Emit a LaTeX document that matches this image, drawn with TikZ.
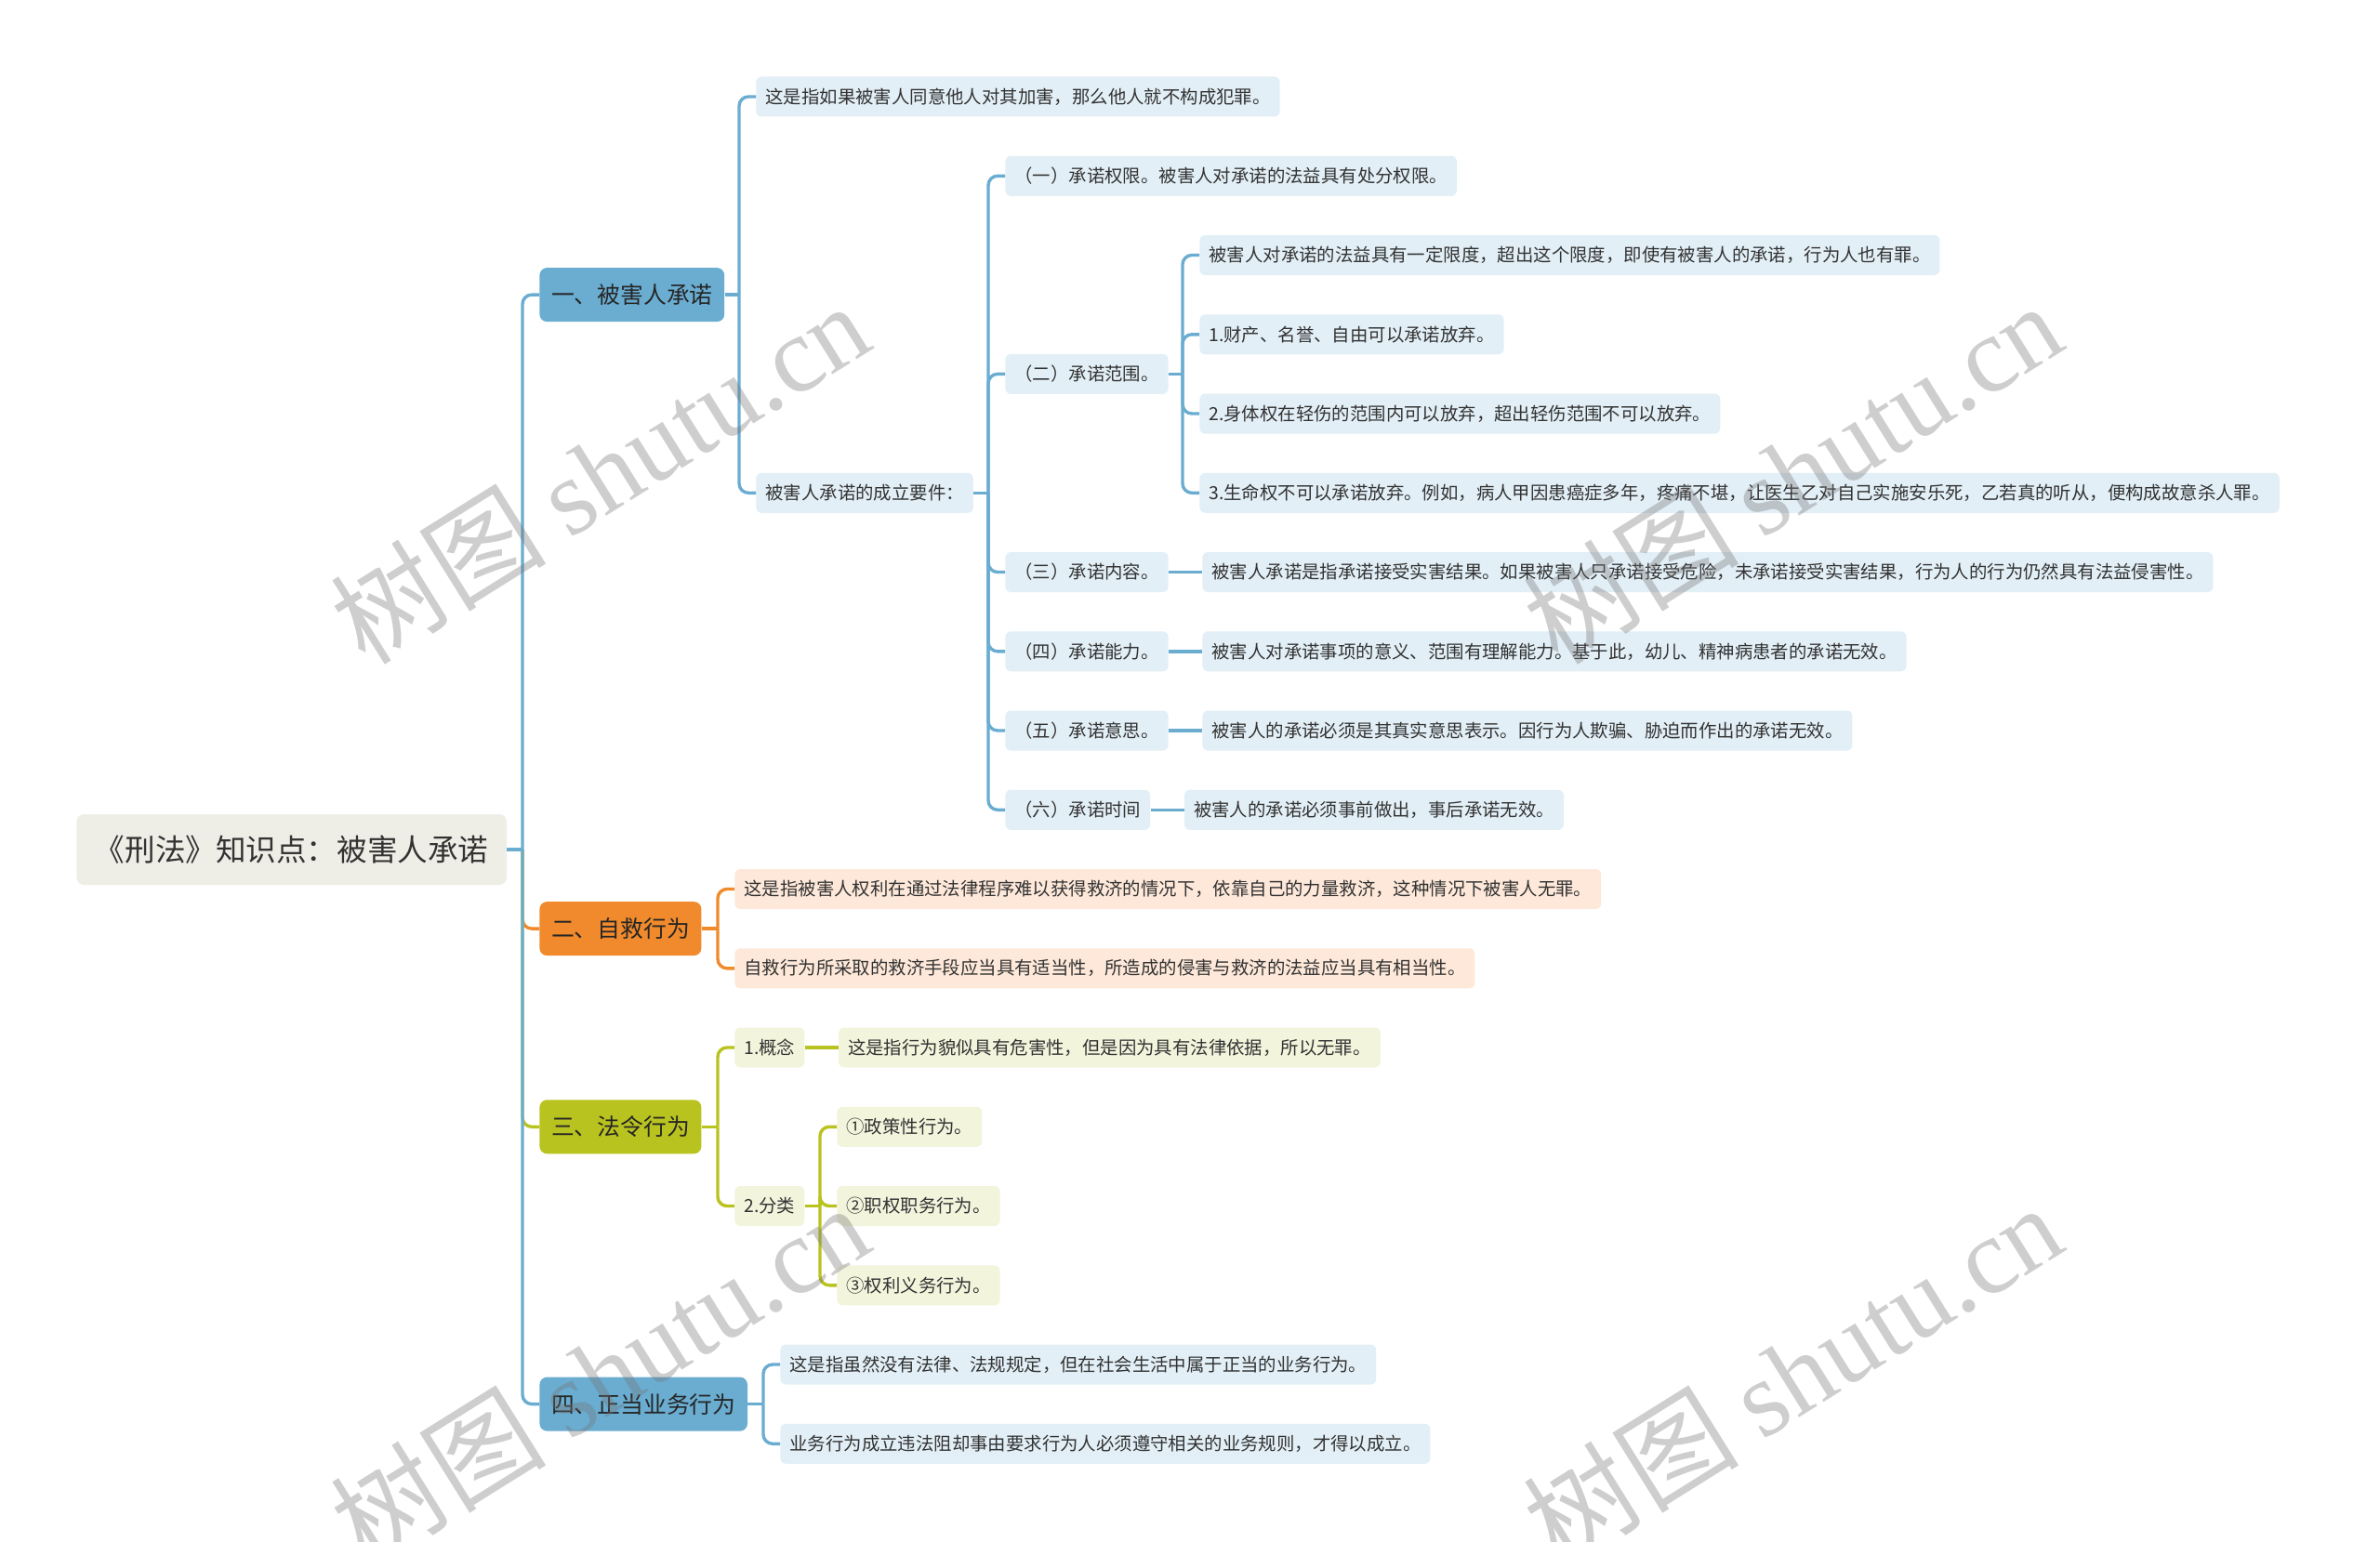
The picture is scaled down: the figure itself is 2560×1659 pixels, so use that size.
\documentclass[tikz,border=0pt]{standalone}
\usepackage{fontspec}
\setmainfont{Noto Sans CJK SC}
\newfontfamily\wmserif{Liberation Serif}
\usetikzlibrary{positioning}

\definecolor{rootfill}{HTML}{EFEEE6}
\definecolor{bluemain}{HTML}{6AADD1}
\definecolor{blueleaf}{HTML}{E2EFF6}
\definecolor{orangemain}{HTML}{F08A2C}
\definecolor{orangeleaf}{HTML}{FDE8D9}
\definecolor{olivemain}{HTML}{B9C31F}
\definecolor{oliveleaf}{HTML}{F2F4DC}
\definecolor{inktext}{HTML}{333333}

\tikzset{
    mind_root/.style={
        rectangle,
        rounded corners=4pt,
        fill=rootfill,
        text=inktext,
        font=\fontsize{16.3}{19}\selectfont,
        minimum height=38pt,
        inner xsep=9.7pt,
        inner ysep=2pt
    },
    mind_main/.style={
        rectangle,
        rounded corners=4pt,
        fill=#1,
        text=black!85,
        font=\fontsize{12.4}{15}\selectfont,
        minimum height=29pt,
        inner xsep=6.3pt,
        inner ysep=2pt
    },
    mind_leaf/.style={
        rectangle,
        rounded corners=3pt,
        fill=#1,
        text=inktext,
        font=\fontsize{9.7}{11.5}\selectfont,
        minimum height=21.5pt,
        inner xsep=5pt,
        inner ysep=2pt
    },
    mind_link/.style={
        line width=1.7pt,
        rounded corners=5pt
    },
    mind_mark/.style={
        rotate=32,
        text=black!55,
        opacity=0.35,
        font=\fontsize{58}{64}\selectfont
    }
}
% elbow connector: parent east -> spine -> child west
\newcommand{\mindlink}[3]{
    \path (#3.west) ++(-9pt,0) coordinate (mlj);
    \draw[mind_link, draw=#1] (#2.east) -- (mlj |- #2.east);
    \draw[mind_link, draw=#1] (mlj |- #2.east) |- (#3.west);
}
\newcommand{\mindstraight}[3]{
    \draw[mind_link, draw=#1] (#2.east) -- (#3.west);
}

\begin{document}
\begin{tikzpicture}[x=0.5pt, y=-0.5pt]

\fill[white] (0,0) rectangle (2560,1659);
\useasboundingbox (0,0) rectangle (2560,1659);

% --- Root and main branches ---
\node[mind_root, anchor=west] (root) at (82,914) {《刑法》知识点：被害人承诺};
\node[mind_main=bluemain, anchor=west] (consent) at (580,317.1) {一、被害人承诺};
\node[mind_main=orangemain, anchor=west] (selfhelp) at (580,999.1) {二、自救行为};
\node[mind_main=olivemain, anchor=west] (lawact) at (580,1212.3) {三、法令行为};
\node[mind_main=bluemain, anchor=west] (business) at (580,1510.6) {四、正当业务行为};

% --- 一、被害人承诺 ---
\node[mind_leaf=blueleaf, anchor=west] (consentDef) at (813,104)
  {这是指如果被害人同意他人对其加害，那么他人就不构成犯罪。};
\node[mind_leaf=blueleaf, anchor=west] (consentReq) at (813,530.3)
  {被害人承诺的成立要件：};

\node[mind_leaf=blueleaf, anchor=west] (reqAuth) at (1081,189.3)
  {（一）承诺权限。被害人对承诺的法益具有处分权限。};
\node[mind_leaf=blueleaf, anchor=west] (reqScope) at (1081,402.4) {（二）承诺范围。};
\node[mind_leaf=blueleaf, anchor=west] (reqContent) at (1081,615.5) {（三）承诺内容。};
\node[mind_leaf=blueleaf, anchor=west] (reqAbility) at (1081,700.8) {（四）承诺能力。};
\node[mind_leaf=blueleaf, anchor=west] (reqWill) at (1081,786) {（五）承诺意思。};
\node[mind_leaf=blueleaf, anchor=west] (reqTime) at (1081,871.3) {（六）承诺时间};

\node[mind_leaf=blueleaf, anchor=west] (scopeLimit) at (1290,274.5)
  {被害人对承诺的法益具有一定限度，超出这个限度，即使有被害人的承诺，行为人也有罪。};
\node[mind_leaf=blueleaf, anchor=west] (scopeProperty) at (1290,359.8)
  {1.财产、名誉、自由可以承诺放弃。};
\node[mind_leaf=blueleaf, anchor=west] (scopeBody) at (1290,445)
  {2.身体权在轻伤的范围内可以放弃，超出轻伤范围不可以放弃。};
\node[mind_leaf=blueleaf, anchor=west] (scopeLife) at (1290,530.3)
  {3.生命权不可以承诺放弃。例如，病人甲因患癌症多年，疼痛不堪，让医生乙对自己实施安乐死，乙若真的听从，便构成故意杀人罪。};

\node[mind_leaf=blueleaf, right=18pt of reqContent] (contentText)
  {被害人承诺是指承诺接受实害结果。如果被害人只承诺接受危险，未承诺接受实害结果，行为人的行为仍然具有法益侵害性。};
\node[mind_leaf=blueleaf, right=18pt of reqAbility] (abilityText)
  {被害人对承诺事项的意义、范围有理解能力。基于此，幼儿、精神病患者的承诺无效。};
\node[mind_leaf=blueleaf, right=18pt of reqWill] (willText)
  {被害人的承诺必须是其真实意思表示。因行为人欺骗、胁迫而作出的承诺无效。};
\node[mind_leaf=blueleaf, right=18pt of reqTime] (timeText)
  {被害人的承诺必须事前做出，事后承诺无效。};

% --- 二、自救行为 ---
\node[mind_leaf=orangeleaf, anchor=west] (selfDef) at (790,956.5)
  {这是指被害人权利在通过法律程序难以获得救济的情况下，依靠自己的力量救济，这种情况下被害人无罪。};
\node[mind_leaf=orangeleaf, anchor=west] (selfLimit) at (790,1041.8)
  {自救行为所采取的救济手段应当具有适当性，所造成的侵害与救济的法益应当具有相当性。};

% --- 三、法令行为 ---
\node[mind_leaf=oliveleaf, anchor=west] (lawConcept) at (790,1127) {1.概念};
\node[mind_leaf=oliveleaf, right=18pt of lawConcept] (lawConceptText)
  {这是指行为貌似具有危害性，但是因为具有法律依据，所以无罪。};
\node[mind_leaf=oliveleaf, anchor=west] (lawKinds) at (790,1297.5) {2.分类};
\node[mind_leaf=oliveleaf, anchor=west] (kindPolicy) at (900,1212.3) {①政策性行为。};
\node[mind_leaf=oliveleaf, anchor=west] (kindDuty) at (900,1297.5) {②职权职务行为。};
\node[mind_leaf=oliveleaf, anchor=west] (kindRight) at (900,1382.8) {③权利义务行为。};

% --- 四、正当业务行为 ---
\node[mind_leaf=blueleaf, anchor=west] (busDef) at (839,1468)
  {这是指虽然没有法律、法规规定，但在社会生活中属于正当的业务行为。};
\node[mind_leaf=blueleaf, anchor=west] (busRule) at (839,1553.3)
  {业务行为成立违法阻却事由要求行为人必须遵守相关的业务规则，才得以成立。};

% --- Links: root ---
\mindlink{orangemain}{root}{selfhelp}
\mindlink{olivemain}{root}{lawact}
\mindlink{bluemain}{root}{consent}
\mindlink{bluemain}{root}{business}

% --- Links: 一 ---
\mindlink{bluemain}{consent}{consentDef}
\mindlink{bluemain}{consent}{consentReq}
\mindlink{bluemain}{consentReq}{reqAuth}
\mindlink{bluemain}{consentReq}{reqScope}
\mindlink{bluemain}{consentReq}{reqContent}
\mindlink{bluemain}{consentReq}{reqAbility}
\mindlink{bluemain}{consentReq}{reqWill}
\mindlink{bluemain}{consentReq}{reqTime}
\mindlink{bluemain}{reqScope}{scopeLimit}
\mindlink{bluemain}{reqScope}{scopeProperty}
\mindlink{bluemain}{reqScope}{scopeBody}
\mindlink{bluemain}{reqScope}{scopeLife}
\mindstraight{bluemain}{reqContent}{contentText}
\mindstraight{bluemain}{reqAbility}{abilityText}
\mindstraight{bluemain}{reqWill}{willText}
\mindstraight{bluemain}{reqTime}{timeText}

% --- Links: 二, 三, 四 ---
\mindlink{orangemain}{selfhelp}{selfDef}
\mindlink{orangemain}{selfhelp}{selfLimit}
\mindlink{olivemain}{lawact}{lawConcept}
\mindlink{olivemain}{lawact}{lawKinds}
\mindstraight{olivemain}{lawConcept}{lawConceptText}
\mindlink{olivemain}{lawKinds}{kindPolicy}
\mindlink{olivemain}{lawKinds}{kindDuty}
\mindlink{olivemain}{lawKinds}{kindRight}
\mindlink{bluemain}{business}{busDef}
\mindlink{bluemain}{business}{busRule}

% --- Watermarks ---
\node[mind_mark] (wm1) at (645,508) {树图 {\wmserif shutu.cn}};
\node[mind_mark] (wm2) at (1928,508) {树图 {\wmserif shutu.cn}};
\node[mind_mark] (wm3) at (645,1478) {树图 {\wmserif shutu.cn}};
\node[mind_mark] (wm4) at (1928,1478) {树图 {\wmserif shutu.cn}};

\end{tikzpicture}
\end{document}
